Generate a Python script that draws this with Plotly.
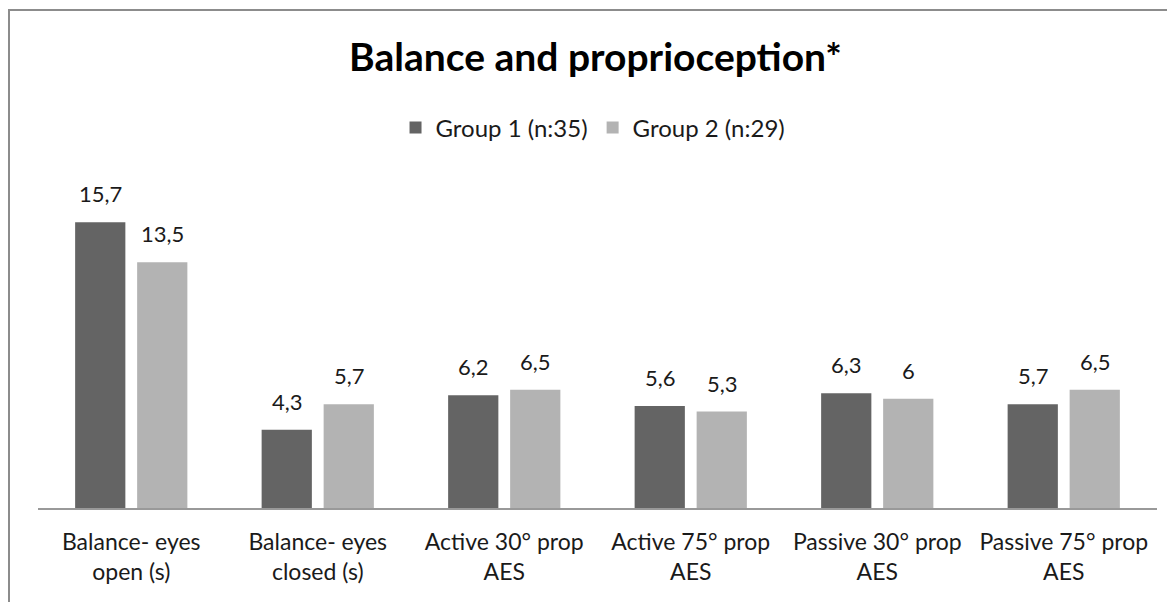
import plotly.graph_objects as go

categories = ["Balance- eyes<br>open (s)", "Balance- eyes<br>closed (s)", "Active 30° prop<br>AES",
              "Active 75° prop<br>AES", "Passive 30° prop<br>AES", "Passive 75° prop<br>AES"]
group1 = [15.7, 4.3, 6.2, 5.6, 6.3, 5.7]
group2 = [13.5, 5.7, 6.5, 5.3, 6.0, 6.5]
names = ["Group 1 (n:35)", "Group 2 (n:29)"]
colors = ["#646464", "#b3b3b3"]

def fmt(v):
    return ("%g" % v).replace(".", ",")

FONT = "Lato"
TXT = "#1a1a1a"
L, R, T, B = 30, 26, 172, 102
W, H = 1175, 602
PW, PH = W - L - R, H - T - B

fig = go.Figure()
for vals, name, col in zip([group1, group2], names, colors):
    fig.add_trace(go.Bar(x=categories, y=vals, name=name, marker_color=col, marker_line_width=0))

# data labels above bars
for vals, shift in zip([group1, group2], [-30.5, 31.5]):
    for c, v in zip(categories, vals):
        fig.add_annotation(x=c, y=v, text=fmt(v), showarrow=False, xanchor="center",
                           yanchor="bottom", xshift=shift, yshift=13,
                           font=dict(size=22, family=FONT, color=TXT))

fig.update_layout(
    width=W, height=H,
    margin=dict(l=L, r=R, t=T, b=B),
    paper_bgcolor="white", plot_bgcolor="white",
    barmode="group", bargap=0.335, bargroupgap=0.19,
    font=dict(family=FONT, size=23, color=TXT),
    title=dict(text="<b>Balance and proprioception*</b>", x=0.5, xanchor="center",
               y=1 - 49/H, yanchor="middle",
               font=dict(size=39, family=FONT, color="black")),
    legend=dict(orientation="h", x=0.496, xanchor="center", y=1 + (T - 120)/PH, yanchor="middle",
                font=dict(size=24, family=FONT, color=TXT), itemwidth=30,
                traceorder="normal"),
    showlegend=True,
)
fig.update_xaxes(showline=True, linecolor="#999999", linewidth=2, ticks="",
                 ticklabelstandoff=12,
                 tickfont=dict(size=23, family=FONT, color=TXT), showgrid=False)
fig.update_yaxes(visible=False, range=[0, PH/18.2], showgrid=False)
fig.add_shape(type="rect", xref="paper", yref="paper",
              x0=(1 - L)/PW, x1=1.2, y0=-1, y1=1 + (T - 2)/PH,
              line=dict(color="#8c8c8c", width=2), fillcolor="rgba(0,0,0,0)", layer="above")
fig.write_html("out.html")
